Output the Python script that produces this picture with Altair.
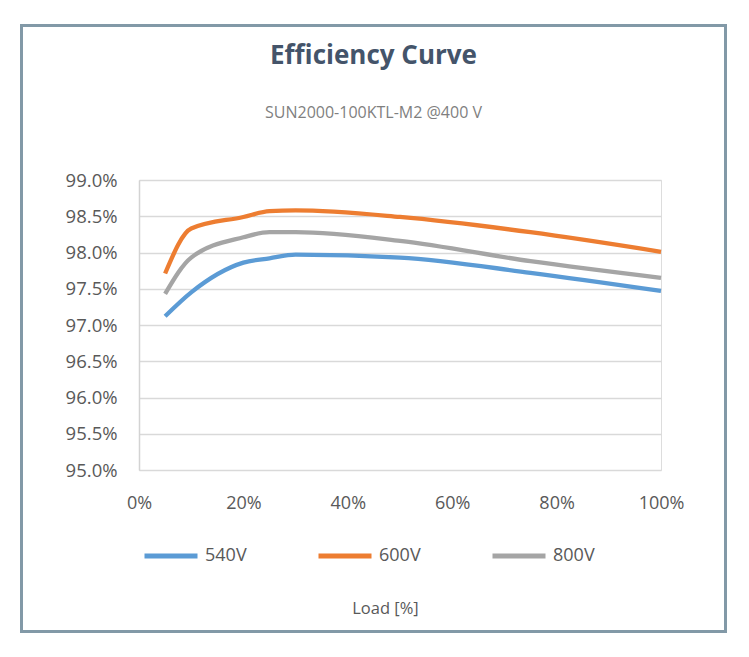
import altair as alt
import pandas as pd

# ---- data ----
load = [5, 10, 20, 25, 30, 50, 75, 100]
eff_540 = [97.12, 97.45, 97.86, 97.92, 97.97, 97.93, 97.72, 97.47]
eff_600 = [97.71, 98.33, 98.49, 98.57, 98.58, 98.49, 98.28, 98.01]
eff_800 = [97.43, 97.93, 98.21, 98.28, 98.28, 98.16, 97.88, 97.65]
series = ["540V", "600V", "800V"]
colors = ["#5b9bd5", "#ed7d31", "#a5a5a5"]
y_ticks = [95.0, 95.5, 96.0, 96.5, 97.0, 97.5, 98.0, 98.5, 99.0]
x_ticks = [0, 20, 40, 60, 80, 100]
title_text = "Efficiency Curve"
subtitle_text = "SUN2000-100KTL-M2 @400 V"
x_title = "Load [%]"

rows = []
for name, vals in zip(series, [eff_540, eff_600, eff_800]):
    for l, v in zip(load, vals):
        rows.append({"load": l, "eff": v, "series": name})
df = pd.DataFrame(rows)

FONT = "Open Sans"
TXT = "#595959"
W, H = 522, 290

frame = alt.Chart(pd.DataFrame({"k": [0]})).mark_rect(
    fill="white", fillOpacity=0, stroke="#8299a7", strokeWidth=3
).encode(
    x=alt.value(-117.5), x2=alt.value(586.5),
    y=alt.value(-154.5), y2=alt.value(451.5),
)

lines = alt.Chart(df).mark_line(strokeWidth=4.3, interpolate="monotone").encode(
    x=alt.X(
        "load:Q",
        scale=alt.Scale(domain=[0, 100], nice=False),
        axis=alt.Axis(
            values=x_ticks, labelExpr="datum.value + '%'", labelFlush=False,
            grid=False, domain=False, ticks=False, tickSize=0,
            labelPadding=24, labelFont=FONT, labelFontSize=18, labelColor=TXT,
            title=x_title, titleFont=FONT, titleFontSize=16.5, titleFontWeight="normal",
            titleColor=TXT, titleX=246, titleY=138, titleAlign="center",
            titleBaseline="middle",
        ),
    ),
    y=alt.Y(
        "eff:Q",
        scale=alt.Scale(domain=[95, 99], nice=False, zero=False),
        axis=alt.Axis(
            values=y_ticks, labelExpr="format(datum.value, '.1f') + '%'",
            labelFlush=False,
            grid=True, gridColor="#d9d9d9", gridWidth=1.5,
            domain=True, domainColor="#d3d3d3", domainWidth=1.5,
            ticks=False, tickSize=0, labelPadding=22,
            labelFont=FONT, labelFontSize=18.5, labelColor=TXT, title=None,
        ),
    ),
    color=alt.Color(
        "series:N",
        scale=alt.Scale(domain=series, range=colors),
        legend=alt.Legend(
            title=None, orient="none", legendX=3, legendY=347,
            direction="horizontal", columns=3, symbolType="stroke",
            symbolSize=2809, symbolStrokeWidth=5, labelFont=FONT,
            labelFontSize=18, labelColor=TXT, labelOffset=5,
            columnPadding=61, padding=0,
        ),
    ),
)

chart = alt.layer(frame, lines).properties(
    width=W, height=H,
    padding={"left": 12, "top": 16, "right": 5, "bottom": 5},
    title=alt.TitleParams(
        text=title_text, subtitle=subtitle_text, anchor="middle", frame="bounds",
        font=FONT, fontSize=26, fontWeight="bold", color="#44546a",
        subtitleFont=FONT, subtitleFontSize=16, subtitleColor="#7f7f7f",
        subtitlePadding=36, offset=-97,
    ),
).configure_view(stroke=None).configure(background="white")

chart.save("out.html", embed_options={"renderer": "svg", "actions": False})
